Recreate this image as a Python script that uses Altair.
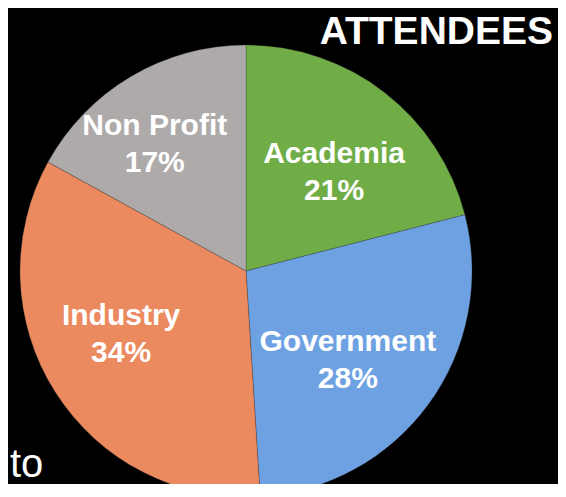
import altair as alt
import pandas as pd

categories = ["Academia", "Government", "Industry", "Non Profit"]
shares = [21, 28, 34, 17]
colors = ["#70AD47", "#6DA1E2", "#EC8A5F", "#AEAAAA"]
title_text = "ATTENDEES"
side_text = "to"

df = pd.DataFrame({
    "category": categories,
    "share": shares,
    "order": list(range(len(categories))),
})
df["label"] = [f"{c}\n{s}%" for c, s in zip(categories, shares)]

CX, CY, R = 238, 263, 226

base = alt.Chart(df).encode(
    theta=alt.Theta("share:Q", stack=True),
    order=alt.Order("order:Q"),
)

pie = base.mark_arc(outerRadius=R, stroke="#3a3a3a", strokeWidth=0.3).encode(
    color=alt.Color("category:N", scale=alt.Scale(domain=categories, range=colors), legend=None),
    x=alt.value(CX),
    y=alt.value(CY),
)

# small label nudges (style), applied to labels placed at slice mid-angles
nudges = {"Academia": (1, -5), "Government": (-13, -12), "Industry": (-5, -31), "Non Profit": (-19, -23)}

label_layers = []
for cat in categories:
    ndx, ndy = nudges[cat]
    label_layers.append(
        base.mark_text(
            radius=142,
            dx=ndx,
            dy=ndy,
            font="Liberation Sans",
            fontWeight="bold",
            fontSize=30,
            color="white",
            lineBreak="\n",
            lineHeight=37,
            align="center",
            baseline="middle",
        ).encode(
            text="label:N",
            x=alt.value(CX),
            y=alt.value(CY),
            opacity=alt.condition(alt.datum.category == cat, alt.value(1), alt.value(0)),
        )
    )

title = alt.Chart(pd.DataFrame({"t": [title_text]})).mark_text(
    font="Liberation Sans", fontWeight="bold", fontSize=39, color="white",
    align="right", baseline="alphabetic",
).encode(text="t:N", x=alt.value(545), y=alt.value(36))

side = alt.Chart(pd.DataFrame({"t": [side_text]})).mark_text(
    font="Liberation Sans", fontSize=40, color="white",
    align="left", baseline="alphabetic",
).encode(text="t:N", x=alt.value(2), y=alt.value(469))

chart = alt.layer(pie, *label_layers, title, side).properties(
    width=550, height=476,
    autosize=alt.AutoSizeParams(type="none"),
    padding=0,
    background="black",
).configure_view(stroke=None)

chart.save("out.html", embed_options={"renderer": "svg", "actions": False})
